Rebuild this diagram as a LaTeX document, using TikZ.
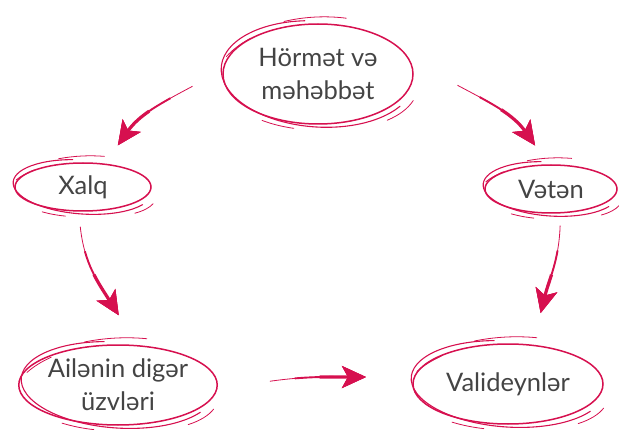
\documentclass[tikz,border=0pt]{standalone}
\usepackage{fontspec}
\setmainfont{Lato}
\usetikzlibrary{arrows.meta,shapes.geometric}
\definecolor{crimson}{RGB}{214,16,79}
\definecolor{ink}{RGB}{68,68,68}
\newcommand{\scribble}[3]{%
  \begin{scope}[shift={(#1.center)}]
    \draw[ring,line width=1.1pt,rotate=-4] (100:{#2+2} and {#3+3}) arc[start angle=100,end angle=330,x radius=#2+2,y radius=#3+3];
    \draw[ring,rotate=3] (108:{#2+6} and {#3+7}) arc[start angle=108,end angle=72,x radius=#2+6,y radius=#3+7];
    \draw[ring,rotate=6] (128:{#2+8} and {#3+4}) arc[start angle=128,end angle=150,x radius=#2+8,y radius=#3+4];
    \draw[ring] (236:{#2+5} and {#3+6}) arc[start angle=236,end angle=256,x radius=#2+5,y radius=#3+6];
    \draw[ring,rotate=-8] (-42:{#2+6} and {#3+4}) arc[start angle=-42,end angle=-14,x radius=#2+6,y radius=#3+4];
  \end{scope}
}
% from, to, to-options
\newcommand{\flow}[3]{%
  \draw[flow,line width=0.8pt] #1 to[#3] #2;
  \draw[flow,line width=1.9pt,dash pattern=on 0pt off 25pt on 400pt] #1 to[#3] #2;
  \draw[flow,line width=3.2pt,dash pattern=on 0pt off 50pt on 400pt] #1 to[#3] #2;
}

\begin{document}
\begin{tikzpicture}[x=1pt,y=1pt,
  bubble/.style={ellipse,draw=crimson,line width=1.5pt,inner sep=0pt,
    text=ink,align=center,font=\fontsize{25.5}{33}\selectfont},
  ring/.style={draw=crimson,line width=0.8pt,line cap=round},
  flow/.style={draw=crimson,line cap=butt,-{Stealth[length=24pt,width=22pt,inset=6pt]}}]
  \useasboundingbox (0,0) rectangle (619,429);
  % nodes
  \node[bubble,minimum width=190,minimum height=100] (top) at (318,355) {Hörmət və\\məhəbbət};
  \node[bubble,minimum width=136,minimum height=48] (xalq) at (83,242) {Xalq};
  \node[bubble,minimum width=132,minimum height=48] (veten) at (551,240) {Vətən};
  \node[bubble,minimum width=190,minimum height=80] (ailenin) at (118,44) {Ailənin digər\\üzvləri};
  \node[bubble,minimum width=190,minimum height=80] (valid) at (508,45) {Valideynlər};
  \scribble{top}{95}{50}
  \scribble{xalq}{68}{24}
  \scribble{veten}{66}{24}
  \scribble{ailenin}{95}{40}
  \scribble{valid}{95}{40}
  % arrows
  \flow{([shift={(-31,-4)}]top.185)}{([shift={(15,18)}]xalq.50)}{out=208,in=55}
  \flow{([shift={(45,-3)}]top.-5)}{([shift={(-7,19)}]veten.110)}{out=-28,in=125}
  \flow{([shift={(-1,-15)}]xalq.-94)}{([shift={(0,29)}]ailenin.89)}{out=-84,in=122}
  \flow{([shift={(3,-12)}]veten.-76)}{([shift={(14,31)}]valid.65)}{out=-92,in=76}
  \flow{([shift={(52,2)}]ailenin.1)}{([shift={(-47,2)}]valid.177)}{out=8,in=180}
\end{tikzpicture}
\end{document}
